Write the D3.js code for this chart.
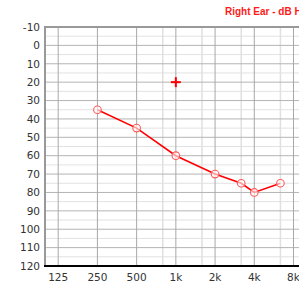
<!DOCTYPE html>
<html>
<head>
<meta charset="utf-8">
<script src="https://cdn.jsdelivr.net/npm/d3@7"></script>
<style>
  body { margin: 0; background: #fff; overflow: hidden; }
  svg { display: block; }
</style>
</head>
<body>
<div id="main"></div>
<script>
// audiogram values
const freqs = [250, 500, 1000, 2000, 3000, 4000, 6000];
const thresholds = [35, 45, 60, 70, 75, 80, 75];
const plusFreqs = [1000];
const plusValues = [20];
const octaveTicks = [125, 250, 500, 1000, 2000, 4000, 8000];
const octaveLabels = ['125', '250', '500', '1k', '2k', '4k', '8k'];
const midTicks = [750, 1500, 3000, 6000];
const dbTicks = [-10, 0, 10, 20, 30, 40, 50, 60, 70, 80, 90, 100, 110, 120];
const dbMinor = [-5, 5, 15, 25, 35, 45, 55, 65, 75, 85, 95, 105, 115];
const title = 'Right Ear - dB HL';

const width = 299, height = 283;
const margin = { top: 27, left: 45, bottom: 266 };

// position of a frequency in octaves above 125 Hz; the half-way frequencies
// (750, 1.5k, 3k, 6k) sit two thirds of the way to the next octave on this chart
const octPos = f => {
  const b = Math.floor(Math.log2(f / 125) + 1e-9);
  return f / (125 * 2 ** b) === 1 ? b : b + 2 / 3;
};

const x = d3.scaleLinear().domain([0, 6]).range([58.2, 293.5]);
const y = d3.scaleLinear().domain([-10, 120]).range([margin.top, margin.bottom]);

const svg = d3.select('#main').append('svg')
  .attr('width', width)
  .attr('height', height);

const font = '"DejaVu Sans", Verdana, sans-serif';

// minor horizontal lines
svg.append('g').selectAll('line').data(dbMinor).enter().append('line')
  .attr('x1', margin.left).attr('x2', width)
  .attr('y1', d => y(d)).attr('y2', d => y(d))
  .attr('stroke', '#e2e2e2').attr('stroke-width', 1);

// light vertical lines
svg.append('g').selectAll('line').data(midTicks).enter().append('line')
  .attr('x1', d => x(octPos(d))).attr('x2', d => x(octPos(d)))
  .attr('y1', margin.top).attr('y2', margin.bottom)
  .attr('stroke', '#e0e0e0').attr('stroke-width', 1.5);

// major horizontal lines
svg.append('g').selectAll('line').data(dbTicks).enter().append('line')
  .attr('x1', margin.left).attr('x2', width)
  .attr('y1', d => y(d)).attr('y2', d => y(d))
  .attr('stroke', '#b4b4b4').attr('stroke-width', 1);

// octave lines
svg.append('g').selectAll('line').data(octaveTicks).enter().append('line')
  .attr('x1', d => x(octPos(d))).attr('x2', d => x(octPos(d)))
  .attr('y1', margin.top).attr('y2', margin.bottom)
  .attr('stroke', '#a8a8a8').attr('stroke-width', 1);

// frame
svg.append('line')
  .attr('x1', margin.left).attr('x2', width)
  .attr('y1', margin.top).attr('y2', margin.top)
  .attr('stroke', '#999').attr('stroke-width', 2);
svg.append('line')
  .attr('x1', margin.left).attr('x2', margin.left)
  .attr('y1', margin.top - 1).attr('y2', margin.bottom)
  .attr('stroke', '#999').attr('stroke-width', 2);
svg.append('line')
  .attr('x1', margin.left - 1).attr('x2', width)
  .attr('y1', margin.bottom).attr('y2', margin.bottom)
  .attr('stroke', '#000').attr('stroke-width', 2);

// tick labels
svg.append('g').selectAll('text').data(dbTicks).enter().append('text')
  .attr('x', 40).attr('y', d => y(d))
  .attr('dy', '0.36em')
  .attr('text-anchor', 'end')
  .style('font-family', font).style('font-size', '10.5px').attr('fill', '#333')
  .text(d => d);

svg.append('g').selectAll('text').data(octaveTicks).enter().append('text')
  .attr('x', d => x(octPos(d))).attr('y', 281)
  .attr('text-anchor', 'middle')
  .style('font-family', font).style('font-size', '10.5px').attr('fill', '#333')
  .text((d, i) => octaveLabels[i]);

// title
svg.append('text')
  .attr('x', 225).attr('y', 15)
  .style('font-family', '"Liberation Sans", Arial, sans-serif')
  .style('font-size', '10px').style('font-weight', 'bold')
  .attr('fill', '#ff1a1a')
  .text(title);

// threshold line
const pts = freqs.map((f, i) => [x(octPos(f)), y(thresholds[i])]);
svg.append('path')
  .attr('d', d3.line()(pts))
  .attr('fill', 'none').attr('stroke', '#ff0000').attr('stroke-width', 1.6);

svg.append('g').selectAll('circle').data(pts).enter().append('circle')
  .attr('cx', d => d[0]).attr('cy', d => d[1]).attr('r', 3.8)
  .attr('fill', 'rgba(255,255,255,0.6)')
  .attr('stroke', '#ff5a5a').attr('stroke-width', 1.1);

// plus marker
const plus = svg.append('g');
plusFreqs.forEach((f, i) => {
  const cx = x(octPos(f)), cy = y(plusValues[i]);
  plus.append('line').attr('x1', cx - 5).attr('x2', cx + 5).attr('y1', cy).attr('y2', cy)
    .attr('stroke', '#ff0000').attr('stroke-width', 2);
  plus.append('line').attr('x1', cx).attr('x2', cx).attr('y1', cy - 5).attr('y2', cy + 5)
    .attr('stroke', '#ff0000').attr('stroke-width', 2);
});
</script>
</body>
</html>
